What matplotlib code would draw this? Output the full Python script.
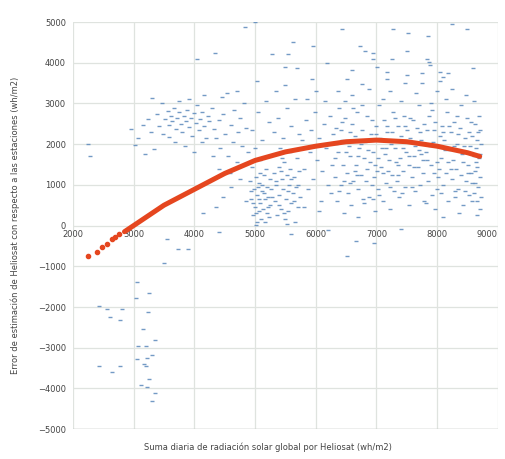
import matplotlib
matplotlib.use("Agg")
import matplotlib.pyplot as plt
import numpy as np

# scatter points, split by region
far_x = [2250, 2280]
far_y = [2000, 1720]

neg_x = [2430, 2560, 2610, 2770, 2810, 3050, 3250, 3040, 3240, 3160, 3350, 3080, 3200, 3300,
         3220, 3050, 2430, 2780, 2640, 3170, 3200, 3250, 3130, 3220, 3350, 3300,
         3500, 3730, 3900, 3550, 4400, 5600, 6510, 6660, 6960, 6200, 7400]
neg_y = [-1970, -2040, -2240, -2310, -2060, -1380, -1650, -1770, -2110, -2530, -2800, -2950, -2950, -3170,
         -3240, -3270, -3460, -3440, -3590, -3390, -3460, -3780, -3910, -3960, -4100, -4320,
         -930, -570, -570, -340, -150, -200, -740, -390, -420, -120, -80]

left_x = [2960, 3020, 3080, 3150, 3190, 3240, 3290, 3330, 3380, 3420, 3460, 3310,
          3520, 3560, 3590, 3610, 3640, 3670, 3700, 3720, 3750, 3780, 3800, 3830, 3860, 3880,
          3910, 3940, 3960, 3990, 4020, 4050, 4080, 4100, 4130, 4160, 4190, 4220, 4250,
          3580, 3690, 3850, 4000, 4120, 3740, 3920, 4160, 3480,
          4290, 4320, 4360, 4400, 4430, 4470, 4500, 4540, 4560, 4600, 4630, 4660, 4700, 4720,
          4760, 4790, 4820, 4850, 4880, 4400, 4580, 4300, 4700, 4450,
          4350, 4480, 4150, 4600, 4750, 4850]
left_y = [2380, 1980, 2150, 2480, 1750, 2620, 2300, 1880, 2750, 2450, 3000, 3130,
          2620, 2820, 2480, 2700, 2560, 2900, 2380, 2640, 2780, 2500, 2300, 2700, 2580, 2850,
          2420, 2650, 2200, 2760, 2520, 2960, 2350, 2620, 2800, 2450, 2150, 2700, 2560,
          2180, 2050, 1950, 1800, 2050, 3050, 3100, 3200, 2250,
          2900, 2380, 2150, 2600, 1900, 2750, 2250, 3250, 1700, 2480, 2050, 2850, 1550, 2300,
          2650, 1950, 3000, 2400, 1800, 1400, 1300, 1700, 3300, 3150,
          450, 700, 300, 950, 1150, 600]

mid_x = [4920, 4940, 4960, 4980, 5000, 5010, 5030, 5040, 5060, 5070, 5090, 5100, 5110, 5130,
         5140, 5160, 5170, 5190, 5200, 5220, 5240, 5250, 4950, 5080, 5180, 5020, 5120, 5230,
         4950, 5050, 5120, 5180, 5230, 5000,
         5310, 5330, 5350, 5370, 5390, 5400, 5420, 5440, 5460, 5480, 5490, 5510, 5530, 5550,
         5560, 5580, 5600, 5620, 5640, 5660, 5680, 5700, 5720, 5740, 5360, 5450, 5570, 5690,
         5520, 5410, 5320, 5380, 5460, 5530, 5600, 5660, 5720, 5350, 5500,
         5780, 5810, 5840, 5870, 5900, 5930, 5960, 5990, 6020, 6050, 6080, 6110, 6140, 6170,
         6200, 6230, 6260, 6290, 5850, 6000, 6150, 6250, 5800, 6050,
         4930, 4970, 5010, 5050, 5090, 5150, 5210, 5260, 5340, 5390, 5430, 5470, 5540, 5590,
         5650, 5710, 5280, 5060]
mid_y = [1100, 650, 250, 900, 450, 1200, 80, 750, 350, 1050, 550, 150, 850, 400,
         1250, 650, 100, 950, 300, 700, 1150, 500, 1450, 1600, 1400, 20, 1000, 200,
         2350, 2800, 2100, 3050, 2550, 1900,
         1300, 600, 1000, 250, 1450, 750, 400, 1150, 900, 1550, 150, 650, 1250, 350,
         1000, 1400, 550, 800, 1200, 100, 950, 450, 1350, 700, 1750, 1650, 1800, 1650,
         50, 1900, 2300, 2650, 2150, 2900, 2450, 3100, 2250, 3300, 3450,
         2100, 1400, 2600, 900, 1800, 2350, 1150, 2800, 1600, 2150, 600, 1350, 2500, 1900,
         1000, 2700, 1500, 2250, 3100, 3300, 3050, 800, 450, 350,
         850, 550, 300, 950, 1300, 800, 450, 900, 1100, 500, 1350, 300, 850, 1150,
         600, 1000, 700, 650]

right_x = [6310, 6330, 6350, 6370, 6390, 6410, 6430, 6450, 6470, 6490, 6510, 6530, 6540, 6360, 6480, 6420,
           6560, 6580, 6600, 6620, 6640, 6660, 6680, 6700, 6720, 6740, 6760, 6780, 6790, 6600, 6700, 6650,
           6810, 6830, 6850, 6870, 6890, 6910, 6930, 6950, 6970, 6990, 7010, 7030, 7040, 6880, 6960, 7020,
           7060, 7080, 7100, 7120, 7140, 7160, 7180, 7200, 7220, 7240, 7260, 7280, 7290, 7110, 7230, 7150,
           7310, 7330, 7350, 7370, 7390, 7410, 7430, 7450, 7470, 7490, 7510, 7530, 7540, 7400, 7480, 7360,
           7560, 7580, 7600, 7620, 7640, 7660, 7680, 7700, 7720, 7740, 7760, 7780, 7790, 7650, 7750, 7700,
           7810, 7830, 7850, 7870, 7890, 7910, 7930, 7950, 7970, 7990, 8010, 8030, 8040, 7900, 8000, 7960,
           8060, 8080, 8100, 8120, 8140, 8160, 8180, 8200, 8220, 8240, 8260, 8280, 8290, 8150, 8250, 8100,
           8310, 8330, 8350, 8370, 8390, 8410, 8430, 8450, 8470, 8490, 8510, 8530, 8540, 8400, 8480, 8360,
           8560, 8580, 8600, 8610, 8620, 8630, 8640, 8650, 8660, 8670, 8680, 8690, 8700, 8710, 8720, 8690,
           8600, 8650]
right_y = [1200, 2400, 600, 1800, 2900, 1000, 2100, 1500, 300, 2650, 1300, 800, 1950, 3300, 3050, 2350,
           1700, 500, 2500, 1100, 2200, 1500, 2800, 900, 1900, 1250, 2350, 650, 1650, 3200, 200, 1350,
           2050, 1100, 2700, 700, 1550, 2250, 1000, 1800, 350, 2450, 1350, 900, 2950, 3350, 1200, 1650,
           2150, 1450, 600, 2600, 1750, 1050, 2300, 1600, 400, 2000, 1250, 2800, 850, 3100, 3300, 1900,
           1900, 1100, 2450, 700, 1650, 2200, 1350, 2700, 950, 1800, 2350, 500, 1500, 3050, 2050, 1250,
           2150, 1200, 2600, 1700, 850, 2400, 1450, 2950, 1000, 2100, 1600, 600, 2500, 3250, 3500, 1850,
           1800, 2350, 1100, 2700, 1500, 750, 2050, 1300, 2550, 900, 1950, 1400, 2200, 3000, 3300, 400,
           1650, 2450, 1000, 2100, 1300, 2800, 600, 1850, 2300, 1150, 1600, 2550, 850, 3100, 3350, 200,
           1400, 2000, 900, 2400, 1250, 1750, 500, 2150, 1100, 2650, 1500, 750, 1950, 2950, 3200, 300,
           1300, 2200, 800, 1700, 2500, 1050, 1900, 600, 1450, 2300, 950, 1650, 400, 1200, 2000, 2700,
           3050, 250]

# second pass over the dense right-hand cloud
dense_x = [6320, 6380, 6440, 6500, 6560, 6620, 6680, 6740, 6800, 6860, 6920, 6980, 7050, 7110,
           7170, 7230, 7300, 7350, 7420, 7470, 7530, 7590, 7640, 7710, 7770, 7820, 7880, 7940,
           8000, 8070, 8130, 8190, 8230, 8300, 8350, 8420, 8460, 8520, 8570, 8620, 8660, 8700,
           8720, 8580, 6340, 6460, 6570, 6690, 6770, 6840, 6940, 7000, 7090, 7190, 7260, 7320,
           7440, 7560, 7610, 7730, 7840, 7920, 8020, 8090, 8170, 8270, 8320, 8440, 8500, 8550,
           8640, 8700]
dense_y = [1650, 850, 2550, 1800, 1050, 2900, 1250, 2000, 550, 1850, 2600, 1500, 750, 1300,
           2450, 950, 2650, 1500, 800, 2450, 1700, 950, 1950, 2300, 1300, 550, 1950, 2350,
           1550, 800, 1850, 2450, 1400, 700, 2250, 1550, 850, 2300, 1050, 1350, 2100, 1750,
           700, 600, 2000, 1100, 2300, 1700, 2950, 1400, 650, 2250, 1900, 1350, 2300, 1550,
           1900, 2650, 1450, 1750, 1600, 2850, 1200, 2300, 1550, 1950, 2700, 1950, 1300, 2550,
           1550, 2350]

top_x = [4830, 5000, 5620, 5950, 6430, 7270, 7520, 7850, 8240, 8490, 5280, 5540, 6180, 6730,
         6810, 6940, 7500, 7830, 7860, 7880, 5490, 5690, 6940, 7250, 7010, 7170, 7500, 7750,
         8050, 8180, 8590, 8100, 6600, 5030, 5940, 6510, 6760, 7170, 7470, 8050, 4340, 4050]
top_y = [4870, 5000, 4520, 4400, 4840, 4840, 4720, 4650, 4940, 4840, 4220, 4220, 4000, 4420,
         4280, 4250, 4280, 4100, 4020, 3950, 3900, 3880, 4100, 4100, 3900, 3780, 3710, 3760,
         3780, 3760, 3880, 3640, 3830, 3540, 3590, 3590, 3470, 3610, 3510, 3540, 4250, 4080]

# polynomial trend line
trend_x = [2850, 3000, 3500, 4000, 4500, 5000, 5500, 6000, 6500, 7000, 7500, 8000, 8500, 8700]
trend_y = [-150, 0, 500, 890, 1280, 1600, 1810, 1950, 2060, 2100, 2060, 1950, 1790, 1700]
trend_dots_x = [2250, 2390, 2480, 2560, 2640, 2700, 2760]
trend_dots_y = [-740, -640, -530, -440, -340, -270, -210]

xticks = [2000, 3000, 4000, 5000, 6000, 7000, 8000, 9000]
yticks = [-5000, -4000, -3000, -2000, -1000, 0, 1000, 2000, 3000, 4000, 5000]

fig = plt.figure(figsize=(5.06, 4.59), dpi=100)
ax = fig.add_axes([0.144, 0.065, 0.84, 0.887])

sx = far_x + neg_x + left_x + mid_x + right_x + dense_x + top_x
sy = far_y + neg_y + left_y + mid_y + right_y + dense_y + top_y
ax.plot(sx, sy, linestyle="none", marker="_", ms=2.8, mew=1.0,
        color="#5a88bb", alpha=0.85, zorder=3)

ax.plot(trend_x, trend_y, color="#e5461f", lw=3.6, solid_capstyle="round", zorder=4)
ax.plot(trend_dots_x, trend_dots_y, linestyle="none", marker="o", ms=3.0,
        color="#e5461f", zorder=4)

ax.set_xlim(2000, 9000)
ax.set_ylim(-5000, 5000)
ax.set_xticks(xticks)
ax.set_yticks(yticks)
ax.grid(True, color="#dfe3df", lw=0.9, zorder=0)
ax.set_axisbelow(True)

for s in ["top", "right", "left"]:
    ax.spines[s].set_visible(False)
ax.spines["bottom"].set_position(("data", 0))
ax.spines["bottom"].set_visible(False)
ax.axhline(-5000, color="#b8bcb8", lw=1.0, zorder=1)

ax.tick_params(axis="both", length=0, labelsize=6, labelcolor="#444444")
ax.tick_params(axis="x", pad=3)
ax.tick_params(axis="y", pad=5)
# last x label sits against the right edge, keep it inside the figure
ax.get_xticklabels()[-1].set_horizontalalignment("right")

fig.text(0.53, 0.015, "Suma diaria de radiación solar global por Heliosat (wh/m2)",
         ha="center", va="bottom", fontsize=6, color="#444444")
fig.text(0.03, 0.51, "Error de estimación de Heliosat con respecto a las estaciones (wh/m2)",
         ha="center", va="center", rotation=90, fontsize=6, color="#444444")

fig.savefig("out.png", dpi=100)
